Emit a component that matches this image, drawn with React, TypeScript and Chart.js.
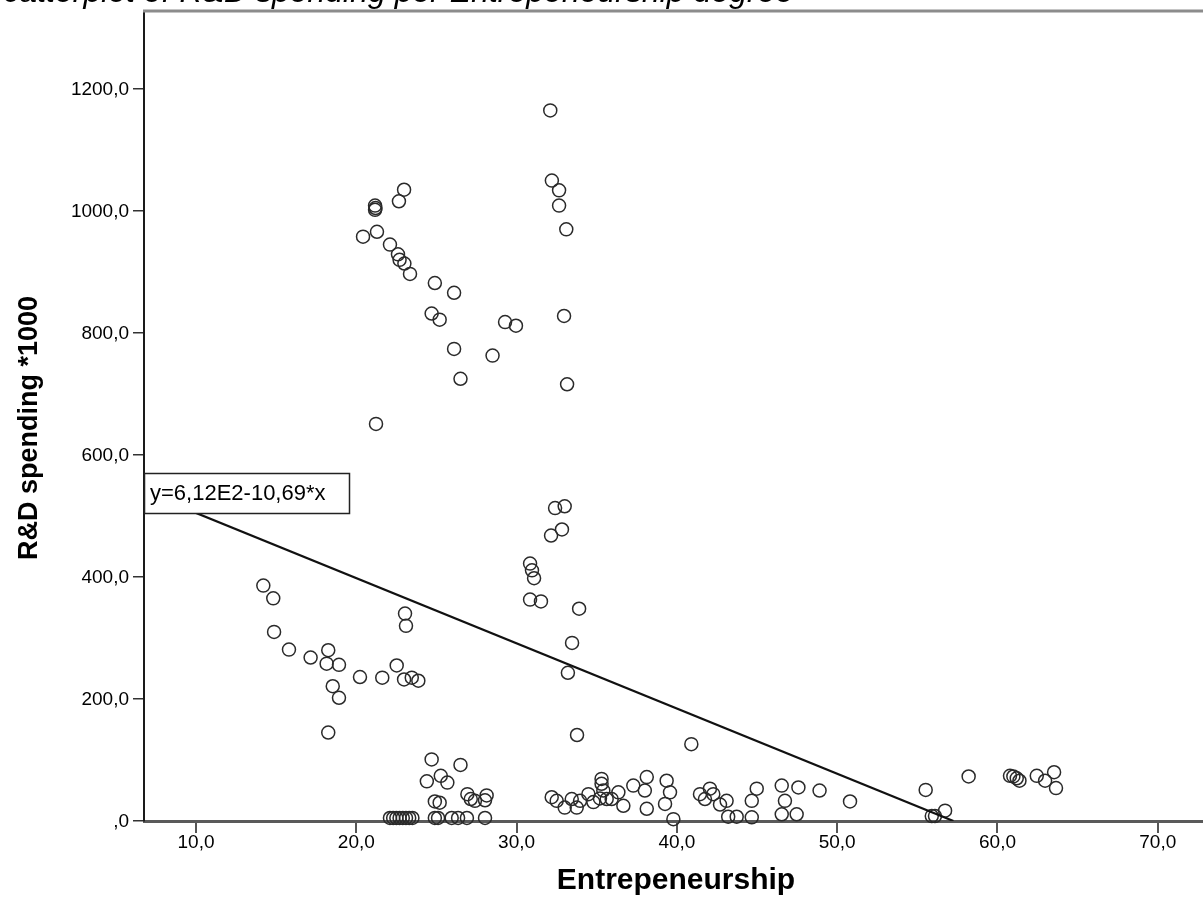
import React, { useEffect, useRef } from "react";
import { Chart, registerables } from "chart.js";

Chart.register(...registerables);

// ---- data ----
const entrepreneurship: number[] = [
  // upper left cluster
  20.42, 21.17, 21.17, 21.2, 22.98, 22.66, 21.29, 22.1, 22.6, 22.7, 23.0, 23.35,
  24.9, 26.1, 24.7, 25.2, 26.1, 26.5, 21.23, 29.28, 29.96, 28.5,
  // upper middle column
  32.1, 32.2, 32.65, 32.65, 33.1, 32.96, 33.15,
  // middle column
  32.4, 33.0, 32.15, 32.83, 30.84, 30.96, 31.09, 30.84, 31.52, 33.9, 33.46, 33.2, 33.77,
  // lower left group
  14.2, 14.82, 14.87, 15.8, 17.15, 18.25, 18.15, 18.92, 18.53, 18.92, 18.25, 20.23,
  21.62, 23.04, 23.1, 22.52, 22.98, 23.46, 23.87,
  // bottom left
  24.7, 26.5, 24.4, 25.27, 25.68, 24.9, 25.2, 26.93, 27.14, 27.4, 28.13, 28.03,
  22.1, 22.3, 22.5, 22.7, 22.9, 23.1, 23.3, 23.5, 24.9, 25.1, 25.95, 26.35, 26.9, 28.03,
  // bottom middle
  32.19, 32.5, 33.0, 33.44, 33.75, 33.96, 34.48, 34.79, 35.3, 35.3, 35.41, 35.62,
  35.93, 35.2, 36.35, 36.66, 37.28, 38.0, 38.12, 38.12, 39.36, 39.57, 39.26, 39.78, 40.9,
  // bottom right
  41.44, 41.75, 42.06, 42.27, 42.69, 43.1, 43.2, 43.73, 44.67, 44.67, 44.98, 46.54,
  46.74, 46.54, 47.47, 47.58, 48.9, 50.8,
  // far right
  55.52, 55.9, 56.1, 56.73, 58.2, 60.78, 60.99, 61.2, 61.37, 62.45, 62.97, 63.53, 63.65,
];

const rdSpending: number[] = [
  // upper left cluster
  958, 1009, 1002, 1005, 1035, 1016, 966, 945, 929, 920, 914, 897,
  882, 866, 832, 822, 774, 725, 651, 818, 812, 763,
  // upper middle column
  1165, 1050, 1034, 1009, 970, 828, 716,
  // middle column
  513, 516, 468, 478, 422, 411, 398, 363, 360, 348, 292, 243, 141,
  // lower left group
  386, 365, 310, 281, 268, 280, 258, 256, 221, 202, 145, 236,
  235, 340, 320, 255, 232, 235, 230,
  // bottom left
  101, 92, 65, 74, 63, 32, 30, 44, 36, 33, 42, 34,
  5, 5, 5, 5, 5, 5, 5, 5, 5, 5, 5, 5, 5, 5,
  // bottom middle
  39, 33, 22, 36, 22, 33, 44, 31, 69, 61, 50, 36,
  36, 37, 47, 25, 58, 50, 72, 20, 66, 47, 28, 3, 126,
  // bottom right
  44, 36, 53, 44, 27, 33, 7, 7, 6, 33, 53, 58,
  33, 11, 11, 55, 50, 32,
  // far right
  51, 8, 8, 17, 73, 74, 73, 70, 66, 74, 66, 80, 54,
];

const xTickValues: number[] = [10, 20, 30, 40, 50, 60, 70];
const yTickValues: number[] = [0, 200, 400, 600, 800, 1000, 1200];

const fitIntercept = 612;
const fitSlope = -10.69;
const fitLabel = "y=6,12E2-10,69*x";

const chartTitle = "Scatterplot of R&D spending per Entrepeneurship degree";
const xTitle = "Entrepeneurship";
const yTitle = "R&D spending *1000";

const X_MIN = 6.756;
const X_MAX = 72.82;
const Y_MIN = 0;
const Y_MAX = 1328;

const FONT = "Arial, 'Liberation Sans', sans-serif";

function fmtTick(v: number): string {
  return (v === 0 ? "" : String(v)) + ",0";
}

function drawText(
  ctx: CanvasRenderingContext2D,
  text: string,
  x: number,
  y: number,
  font: string,
  align: CanvasTextAlign,
  baseline: CanvasTextBaseline,
  rotate = 0
) {
  ctx.save();
  ctx.translate(x, y);
  if (rotate) ctx.rotate(rotate);
  ctx.font = font;
  ctx.textAlign = align;
  ctx.textBaseline = baseline;
  ctx.fillStyle = "#000";
  ctx.fillText(text, 0, 0);
  ctx.restore();
}

const spssPlugin = {
  id: "spssDecor",
  afterDraw(chart: any) {
    const ctx: CanvasRenderingContext2D = chart.ctx;
    const { left, top, bottom, right } = chart.chartArea;
    const xs = chart.scales.x;
    const ys = chart.scales.y;

    // top frame line
    ctx.save();
    ctx.strokeStyle = "#8c8c8c";
    ctx.lineWidth = 3;
    ctx.beginPath();
    ctx.moveTo(left - 1, top);
    ctx.lineTo(chart.width, top);
    ctx.stroke();
    ctx.restore();

    // y tick labels
    ys.ticks.forEach((t: any) => {
      const py = ys.getPixelForValue(t.value);
      drawText(ctx, fmtTick(t.value), left - 15, py + 1, `19px ${FONT}`, "right", "middle");
    });
    // x tick labels
    xs.ticks.forEach((t: any) => {
      const px = xs.getPixelForValue(t.value);
      drawText(ctx, fmtTick(t.value), px, bottom + 22, `19px ${FONT}`, "center", "middle");
    });

    // axis titles
    drawText(ctx, xTitle, 676, 881, `bold 30px ${FONT}`, "center", "middle");
    drawText(ctx, yTitle, 30, 428, `bold 27px ${FONT}`, "center", "middle", -Math.PI / 2);

    // chart title (cut off at the top)
    drawText(ctx, chartTitle, -18, 2, `italic 32px ${FONT}`, "left", "alphabetic");

    // fit-line label box
    const bx = left;
    const by = 473;
    const bw = 205;
    const bh = 40;
    ctx.save();
    ctx.fillStyle = "#fff";
    ctx.fillRect(bx, by, bw, bh);
    ctx.strokeStyle = "#222";
    ctx.lineWidth = 1.5;
    ctx.strokeRect(bx + 0.5, by + 0.5, bw, bh);
    ctx.restore();
    drawText(ctx, fitLabel, bx + 6, by + bh / 2 + 1, `22px ${FONT}`, "left", "middle");
  },
};

export default function App() {
  const canvasRef = useRef<HTMLCanvasElement | null>(null);

  useEffect(() => {
    const canvas = canvasRef.current;
    if (!canvas) return;
    const points = entrepreneurship.map((x, i) => ({ x, y: rdSpending[i] }));
    const xEnd = -fitIntercept / fitSlope;
    const fitPoints = [
      { x: X_MIN, y: fitIntercept + fitSlope * X_MIN },
      { x: xEnd, y: fitIntercept + fitSlope * xEnd },
    ];

    const chart = new Chart(canvas, {
      type: "scatter",
      data: {
        datasets: [
          {
            type: "line",
            data: fitPoints,
            borderColor: "#111",
            borderWidth: 2.2,
            pointRadius: 0,
            fill: false,
            order: 1,
          } as any,
          {
            data: points,
            pointStyle: "circle",
            pointRadius: 6.5,
            pointBorderWidth: 1.5,
            borderColor: "#2a2a2a",
            backgroundColor: "rgba(0,0,0,0)",
            clip: false,
            order: 2,
          } as any,
        ],
      },
      options: {
        responsive: false,
        animation: false,
        events: [],
        layout: { autoPadding: false, padding: { top: 11, right: 0, bottom: 0, left: 0 } },
        plugins: {
          legend: { display: false },
          tooltip: { enabled: false },
          title: { display: false },
        },
        scales: {
          x: {
            type: "linear",
            min: X_MIN,
            max: X_MAX,
            afterBuildTicks: (scale: any) => {
              scale.ticks = xTickValues.map((v) => ({ value: v }));
            },
            afterFit: (scale: any) => {
              scale.height = 95;
            },
            ticks: { display: false },
            grid: {
              display: true,
              drawOnChartArea: false,
              drawTicks: true,
              tickLength: 12,
              color: "#555",
              lineWidth: 2,
            },
            border: { display: true, color: "#5a5a5a", width: 3 },
          },
          y: {
            type: "linear",
            min: Y_MIN,
            max: Y_MAX,
            afterBuildTicks: (scale: any) => {
              scale.ticks = yTickValues.map((v) => ({ value: v }));
            },
            afterFit: (scale: any) => {
              scale.width = 144;
            },
            ticks: { display: false },
            grid: {
              display: true,
              drawOnChartArea: false,
              drawTicks: true,
              tickLength: 11,
              color: "#333",
              lineWidth: 1.5,
            },
            border: { display: true, color: "#1a1a1a", width: 2 },
          },
        },
      },
      plugins: [spssPlugin],
    });

    return () => chart.destroy();
  }, []);

  return (
    <div style={{ position: "absolute", left: 0, top: 0, width: 1203, height: 916, background: "#fff", overflow: "hidden" }}>
      <canvas ref={canvasRef} width={1203} height={916} style={{ width: 1203, height: 916, display: "block" }} />
    </div>
  );
}
